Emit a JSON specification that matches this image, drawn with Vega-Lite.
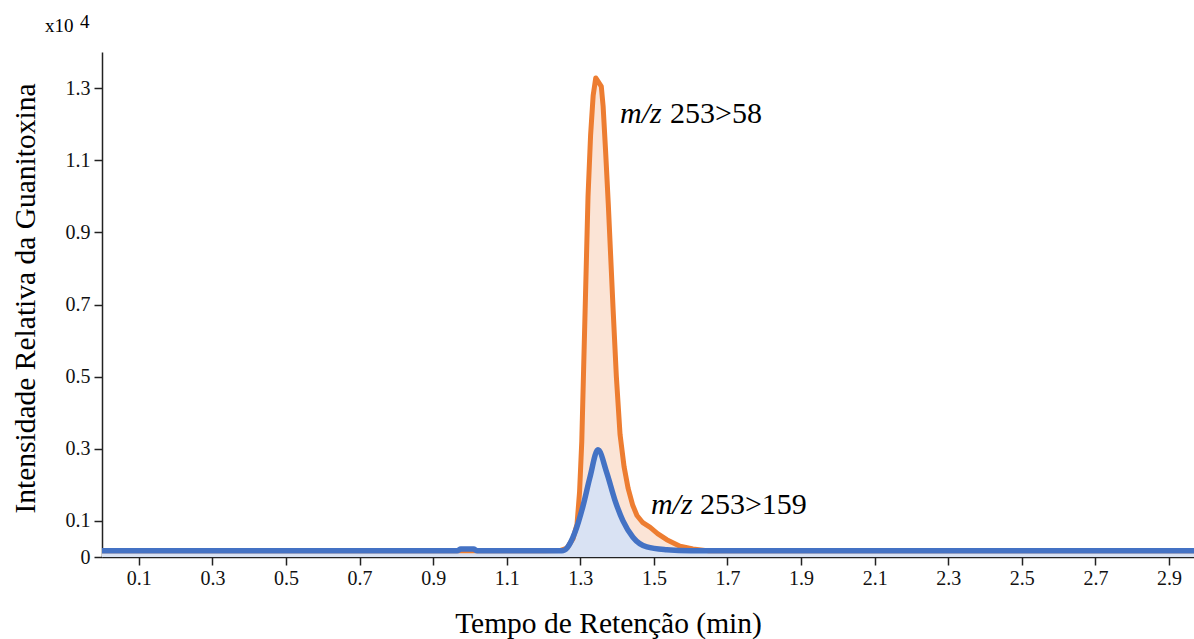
{
  "$schema": "https://vega.github.io/schema/vega-lite/v6.json",
  "width": 1092,
  "height": 505,
  "autosize": "none",
  "padding": {"left": 102, "top": 52, "right": 0, "bottom": 82},
  "background": "white",
  "config": {
    "view": {"stroke": null},
    "font": "Liberation Serif",
    "axis": {"grid": false, "domainColor": "#222222", "domainWidth": 1.5, "tickColor": "#222222", "tickWidth": 1.5, "labelColor": "#111111", "labelFont": "Liberation Serif", "titleFont": "Liberation Serif", "titleFontWeight": "normal", "titleColor": "#000000"}
  },
  "datasets": {
    "curves": [
      {"s": "o", "t": 0, "v": 0.017},
      {"s": "o", "t": 1.2, "v": 0.017},
      {"s": "o", "t": 1.245, "v": 0.018},
      {"s": "o", "t": 1.264, "v": 0.025},
      {"s": "o", "t": 1.28, "v": 0.05},
      {"s": "o", "t": 1.291, "v": 0.09},
      {"s": "o", "t": 1.298, "v": 0.18},
      {"s": "o", "t": 1.304, "v": 0.32},
      {"s": "o", "t": 1.309, "v": 0.52},
      {"s": "o", "t": 1.314, "v": 0.72},
      {"s": "o", "t": 1.321, "v": 1.0},
      {"s": "o", "t": 1.328, "v": 1.17},
      {"s": "o", "t": 1.335, "v": 1.28},
      {"s": "o", "t": 1.342, "v": 1.328},
      {"s": "o", "t": 1.357, "v": 1.305},
      {"s": "o", "t": 1.362, "v": 1.25},
      {"s": "o", "t": 1.369, "v": 1.12},
      {"s": "o", "t": 1.376, "v": 0.98},
      {"s": "o", "t": 1.389, "v": 0.69},
      {"s": "o", "t": 1.398, "v": 0.5},
      {"s": "o", "t": 1.408, "v": 0.34},
      {"s": "o", "t": 1.419, "v": 0.25},
      {"s": "o", "t": 1.43, "v": 0.19},
      {"s": "o", "t": 1.442, "v": 0.145},
      {"s": "o", "t": 1.454, "v": 0.115},
      {"s": "o", "t": 1.47, "v": 0.095},
      {"s": "o", "t": 1.49, "v": 0.082},
      {"s": "o", "t": 1.51, "v": 0.065},
      {"s": "o", "t": 1.535, "v": 0.048},
      {"s": "o", "t": 1.571, "v": 0.03},
      {"s": "o", "t": 1.606, "v": 0.022},
      {"s": "o", "t": 1.65, "v": 0.017},
      {"s": "o", "t": 2.968, "v": 0.017},
      {"s": "b", "t": 0, "v": 0.017},
      {"s": "b", "t": 0.965, "v": 0.017},
      {"s": "b", "t": 0.975, "v": 0.022},
      {"s": "b", "t": 1.01, "v": 0.022},
      {"s": "b", "t": 1.02, "v": 0.017},
      {"s": "b", "t": 1.25, "v": 0.017},
      {"s": "b", "t": 1.264, "v": 0.025},
      {"s": "b", "t": 1.285, "v": 0.067},
      {"s": "b", "t": 1.307, "v": 0.14},
      {"s": "b", "t": 1.326, "v": 0.22},
      {"s": "b", "t": 1.348, "v": 0.297},
      {"s": "b", "t": 1.372, "v": 0.233},
      {"s": "b", "t": 1.394, "v": 0.158},
      {"s": "b", "t": 1.416, "v": 0.1},
      {"s": "b", "t": 1.443, "v": 0.055},
      {"s": "b", "t": 1.481, "v": 0.028},
      {"s": "b", "t": 1.535, "v": 0.02},
      {"s": "b", "t": 1.6, "v": 0.017},
      {"s": "b", "t": 2.968, "v": 0.017}
    ],
    "italic": [
      {"t": 1.408, "v": 1.228, "txt": "m/z"},
      {"t": 1.492, "v": 0.144, "txt": "m/z"}
    ],
    "plain": [
      {"t": 1.544, "v": 1.228, "txt": "253>58"},
      {"t": 1.625, "v": 0.144, "txt": "253>159"}
    ],
    "exp": [
      {"t": -0.155, "v": 1.472, "txt": "x10"},
      {"t": -0.06, "v": 1.483, "txt": "4"}
    ]
  },
  "encoding": {
    "x": {"field": "t", "type": "quantitative", "scale": {"domain": [0, 2.968], "nice": false, "zero": false},
      "axis": {"title": "Tempo de Retenção (min)", "values": [0.1, 0.3, 0.5, 0.7, 0.9, 1.1, 1.3, 1.5, 1.7, 1.9, 2.1, 2.3, 2.5, 2.7, 2.9], "format": ".1f", "labelFontSize": 20, "tickSize": 8, "labelPadding": 3, "titleFontSize": 29.5, "titleX": 506, "titleY": 66, "titleAlign": "center", "titleBaseline": "middle", "labelFlush": false}},
    "y": {"field": "v", "type": "quantitative", "scale": {"domain": [0, 1.4], "nice": false},
      "axis": {"title": "Intensidade Relativa da Guanitoxina", "values": [0, 0.1, 0.3, 0.5, 0.7, 0.9, 1.1, 1.3], "labelExpr": "datum.value == 0 ? '0' : format(datum.value, '.1f')", "labelFontSize": 20, "tickSize": 8, "labelPadding": 4, "titleFontSize": 29.5, "titleX": -77, "titleY": 246, "titleAngle": -90, "titleAlign": "center", "titleBaseline": "middle"}}
  },
  "layer": [
    {"data": {"name": "curves"}, "transform": [{"filter": "datum.s == 'o'"}], "mark": {"type": "area", "color": "#fbe4d6", "interpolate": "linear"}},
    {"data": {"name": "curves"}, "transform": [{"filter": "datum.s == 'b'"}], "mark": {"type": "area", "color": "#d9e2f3", "interpolate": "monotone"}},
    {"data": {"name": "curves"}, "transform": [{"filter": "datum.s == 'o'"}], "mark": {"type": "line", "color": "#ed7d31", "strokeWidth": 5, "interpolate": "linear", "strokeJoin": "round"}},
    {"data": {"name": "curves"}, "transform": [{"filter": "datum.s == 'b'"}], "mark": {"type": "line", "color": "#4472c4", "strokeWidth": 5.5, "interpolate": "monotone"}},
    {"data": {"name": "italic"}, "mark": {"type": "text", "align": "left", "baseline": "middle", "font": "Liberation Serif", "fontStyle": "italic", "fontSize": 30, "color": "#000000"},
      "encoding": {"text": {"field": "txt"}}},
    {"data": {"name": "plain"}, "mark": {"type": "text", "align": "left", "baseline": "middle", "font": "Liberation Serif", "fontStyle": "normal", "fontSize": 30, "color": "#000000"},
      "encoding": {"text": {"field": "txt"}}},
    {"data": {"name": "exp"}, "mark": {"type": "text", "align": "left", "baseline": "middle", "font": "Liberation Serif", "fontSize": 19, "color": "#000000"},
      "encoding": {"text": {"field": "txt"}}}
  ]
}
